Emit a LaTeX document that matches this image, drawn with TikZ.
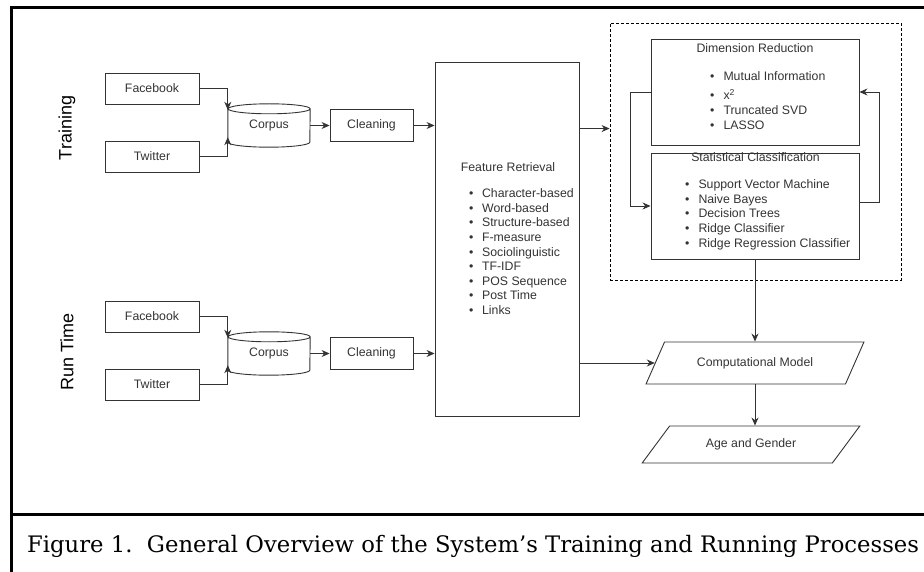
\documentclass[tikz,border=0pt]{standalone}
\usepackage{fontspec}
\setmainfont{DejaVu Serif}
\setsansfont{Liberation Sans}
\usetikzlibrary{shapes.geometric,arrows.meta}
\definecolor{ink}{HTML}{333333}
% cylinder drawn round a named node
\newcommand\drum[1]{\draw[ink,line width=0.9pt] ([yshift=-5pt]#1.north west) -- ([yshift=5pt]#1.south west)
  arc[start angle=180,end angle=360,x radius=41pt,y radius=5pt] -- ([yshift=-5pt]#1.north east)
  arc[start angle=0,end angle=360,x radius=41pt,y radius=5pt];}

\begin{document}
\begin{tikzpicture}[x=1pt,y=1pt,
  every node/.style={font=\sffamily\fontsize{12.3}{14.6}\selectfont,text=ink},
  box/.style={draw=ink,line width=0.9pt,minimum width=94pt,minimum height=31pt,inner sep=0pt},
  store/.style={minimum width=82pt,minimum height=43pt,inner sep=0pt},
  lst/.style={align=left,inner sep=0pt,anchor=north west},
  io/.style={draw=ink,line width=0.9pt,trapezium,trapezium left angle=44,trapezium right angle=136,
    trapezium stretches=true,minimum width=218pt,minimum height=42pt,inner sep=0pt},
  lane/.style={rotate=90,font=\sffamily\fontsize{18}{20}\selectfont,text=black},
  group/.style={draw=black,line width=0.8pt,dash pattern=on 3pt off 2pt,minimum width=291pt,minimum height=257pt},
  frame/.style={line width=3pt,black},
  conn/.style={draw=ink,line width=0.9pt,-{Stealth[length=8pt,width=7pt]}}]
\useasboundingbox (0,0) rectangle (924,-572);
% outer frame
\draw[frame] (11.5,-572) -- (11.5,-8) -- (924,-8);
\draw[frame] (10,-514.5) -- (924,-514.5);

\node[lane] (trn) at (67,-128) {Training};
\node[lane] (run) at (67,-352) {Run Time};

% training
\node[box] (fbA) at (152,-88.5) {Facebook};
\node[box] (twA) at (152,-156.5) {Twitter};
\node[store] (corA) at (269,-125.5) {Corpus};
\drum{corA}
\node[box,minimum width=83pt,minimum height=32pt] (clA) at (371.5,-125.5) {Cleaning};

% run time
\node[box] (fbB) at (152,-316.5) {Facebook};
\node[box] (twB) at (152,-384.5) {Twitter};
\node[store] (corB) at (269,-353.5) {Corpus};
\drum{corB}
\node[box,minimum width=83pt,minimum height=32pt] (clB) at (371.5,-353.5) {Cleaning};

% features
\node[box,minimum width=144pt,minimum height=354pt] (feat) at (507,-239) {};
\node (featT) at (508,-167) {Feature Retrieval};
\node[lst] (featL) at (468.8,-188.6) {\textbullet\hspace{8.8pt}Character-based\\
  \textbullet\hspace{8.8pt}Word-based\\
  \textbullet\hspace{8.8pt}Structure-based\\
  \textbullet\hspace{8.8pt}F-measure\\
  \textbullet\hspace{8.8pt}Sociolinguistic\\
  \textbullet\hspace{8.8pt}TF-IDF\\
  \textbullet\hspace{8.8pt}POS Sequence\\
  \textbullet\hspace{8.8pt}Post Time\\
  \textbullet\hspace{8.8pt}Links};

% learning group
\node[group] (grp) at (755.5,-151.5) {};
\node[box,minimum width=208pt,minimum height=106pt] (dr) at (755,-92) {};
\node (drT) at (755,-48.5) {Dimension Reduction};
\node[lst] (drL) at (710,-71.6) {\textbullet\hspace{9pt}Mutual Information\\[4.5pt]
  \textbullet\hspace{9pt}x\textsuperscript{2}\\
  \textbullet\hspace{9pt}Truncated SVD\\
  \textbullet\hspace{9pt}LASSO};
\node[box,minimum width=208pt,minimum height=106pt] (sc) at (755,-206) {};
\node (scT) at (755.5,-157) {Statistical Classification};
\node[lst] (scL) at (685,-179.6) {\textbullet\hspace{9pt}Support Vector Machine\\
  \textbullet\hspace{9pt}Naive Bayes\\
  \textbullet\hspace{9pt}Decision Trees\\
  \textbullet\hspace{9pt}Ridge Classifier\\
  \textbullet\hspace{9pt}Ridge Regression Classifier};

% outputs
\node[io] (cm) at (755,-363) {Computational Model};
\node[io,trapezium left angle=37,trapezium right angle=143,minimum height=37pt] (ag) at (751,-444.5) {Age and Gender};

% connectors
\draw[conn] (fbA.east) -| ([yshift=-6pt]corA.north west);
\draw[conn] (twA.east) -| ([yshift=10pt]corA.south west);
\draw[conn] (corA.east) -- (corA.east -| clA.west);
\draw[conn] (clA.east) -- (clA.east -| feat.west);
\draw[conn] (fbB.east) -| ([yshift=-6pt]corB.north west);
\draw[conn] (twB.east) -| ([yshift=10pt]corB.south west);
\draw[conn] (corB.east) -- (corB.east -| clB.west);
\draw[conn] (clB.east) -- (clB.east -| feat.west);
\draw[conn] ([yshift=-67pt]feat.north east) -- ([yshift=-67pt]feat.north east -| grp.west);
\draw[conn] (dr.west) -- ++(-20,0) |- (sc.west);
\draw[conn] ([yshift=4pt]sc.east) -- ++(20,0) |- (dr.east);
\draw[conn] (sc.south) -- (sc.south |- cm.north);
\draw[conn] (feat.east |- cm.west) -- (cm.west);
\draw[conn] (cm.south) -- (cm.south |- ag.north);

% caption
\node[anchor=base west,inner sep=0pt,text=black,font=\rmfamily\fontsize{22.7}{26}\selectfont] (cap) at (27,-552)
  {Figure 1.\ \ General Overview of the System’s Training and Running Processes};
\end{tikzpicture}
\end{document}
